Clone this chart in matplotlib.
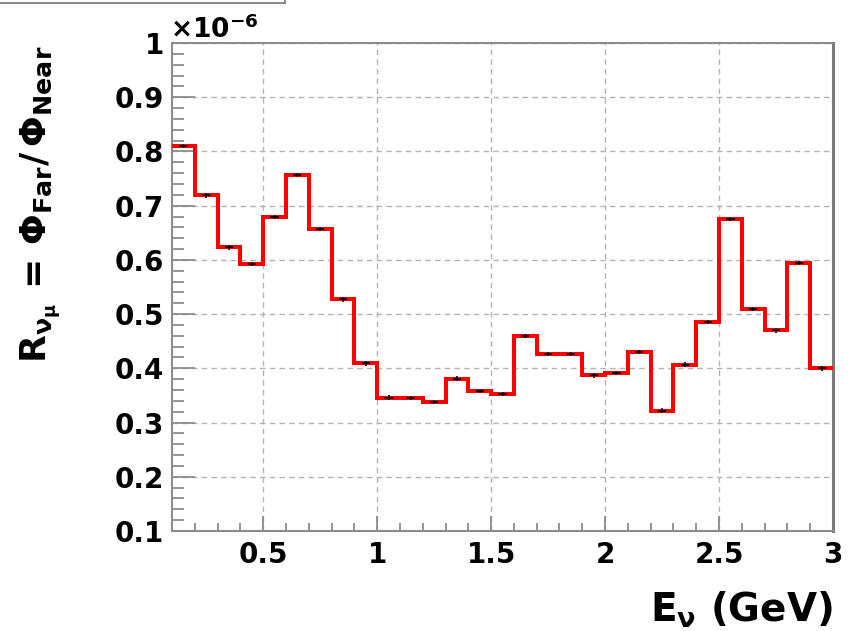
import matplotlib
matplotlib.use("Agg")
import matplotlib.pyplot as plt
import numpy as np
from matplotlib.ticker import MultipleLocator, FixedLocator
from matplotlib.patches import Rectangle

# Far/Near flux ratio per 0.1 GeV bin, in units of 1e-6
bin_edges = np.round(np.arange(0.1, 3.0001, 0.1), 2)
ratio = [0.810, 0.719, 0.623, 0.592, 0.679, 0.756, 0.657, 0.527, 0.409, 0.346,
         0.345, 0.338, 0.381, 0.358, 0.353, 0.460, 0.426, 0.426, 0.387, 0.391,
         0.430, 0.322, 0.407, 0.485, 0.676, 0.509, 0.470, 0.594, 0.400]
ratio_err = [0.004] * len(ratio)

x_ticks = [0.5, 1.0, 1.5, 2.0, 2.5, 3.0]
x_tick_labels = ["0.5", "1", "1.5", "2", "2.5", "3"]
y_ticks = [0.1, 0.2, 0.3, 0.4, 0.5, 0.6, 0.7, 0.8, 0.9, 1.0]
y_tick_labels = ["0.1", "0.2", "0.3", "0.4", "0.5", "0.6", "0.7", "0.8", "0.9", "1"]

plt.rcParams["font.family"] = ["DejaVu Sans"]
plt.rcParams["font.weight"] = "bold"
plt.rcParams["mathtext.fontset"] = "dejavusans"

W, H = 851, 631
fig = plt.figure(figsize=(W / 100, H / 100), dpi=100)
ax = fig.add_axes([172 / W, 1 - 531 / H, (833 - 172) / W, (531 - 43) / H])

frame = "#8c8c8c"

# histogram outline
ax.stairs(ratio, bin_edges, color="#ff0000", linewidth=2.9, baseline=None, zorder=3)

# bin markers with statistical errors
centers = 0.5 * (bin_edges[:-1] + bin_edges[1:])
ax.errorbar(centers, ratio, yerr=ratio_err, xerr=0.018, fmt="none",
            ecolor="black", elinewidth=1.2, capsize=0, zorder=4)

ax.set_xlim(0.1, 3.0)
ax.set_ylim(0.1, 1.0)

ax.xaxis.set_major_locator(FixedLocator(x_ticks))
ax.set_xticklabels(x_tick_labels)
ax.xaxis.set_minor_locator(MultipleLocator(0.1))
ax.yaxis.set_major_locator(FixedLocator(y_ticks))
ax.set_yticklabels(y_tick_labels)
ax.yaxis.set_minor_locator(MultipleLocator(0.02))

ax.tick_params(axis="both", which="both", direction="in", colors=frame,
               labelcolor="black", labelsize=20, width=1.3)
ax.tick_params(axis="x", which="major", length=11, pad=7)
ax.tick_params(axis="x", which="minor", length=6)
ax.tick_params(axis="y", which="major", length=16.5, pad=6)
ax.tick_params(axis="y", which="minor", length=8.5)
for lab in ax.get_xticklabels() + ax.get_yticklabels():
    lab.set_fontweight("bold")

ax.grid(True, which="major", color="#b4b4b4", linestyle=(0, (4, 3)), linewidth=1.0)
ax.set_axisbelow(True)

for side in ["left", "bottom", "top"]:
    ax.spines[side].set_color(frame)
    ax.spines[side].set_linewidth(1.5)
ax.spines["right"].set_color("#7a7a7a")
ax.spines["right"].set_linewidth(2.2)

# axis titles
fig.text(833 / W, 1 / H, r"$\mathbf{E}_{\mathrm{\nu}}$ (GeV)", ha="right", va="bottom",
         fontsize=28, fontweight="bold")
fig.text(18 / W, 1 - 46 / H,
         r"$\mathbf{R}_{\mathrm{\nu}_{\mathrm{\mu}}}\,\mathbf{=}\,\Phi_{\mathbf{Far}}\mathbf{/}\,\Phi_{\mathbf{Near}}$",
         rotation=90, ha="left", va="top", fontsize=26, fontweight="bold")

# exponent of the y scale
fig.text(170 / W, 1 - 38 / H, r"$\times\mathbf{10^{-6}}$", ha="left", va="baseline",
         fontsize=19, fontweight="bold")

# title box edge at the top left
fig.add_artist(Rectangle((-0.01, 1 - 3 / H), 285 / W + 0.01, 0.05,
                         transform=fig.transFigure, facecolor="white",
                         edgecolor="#8c8c8c", linewidth=1.5, clip_on=False))

fig.savefig("out.png", dpi=100)
